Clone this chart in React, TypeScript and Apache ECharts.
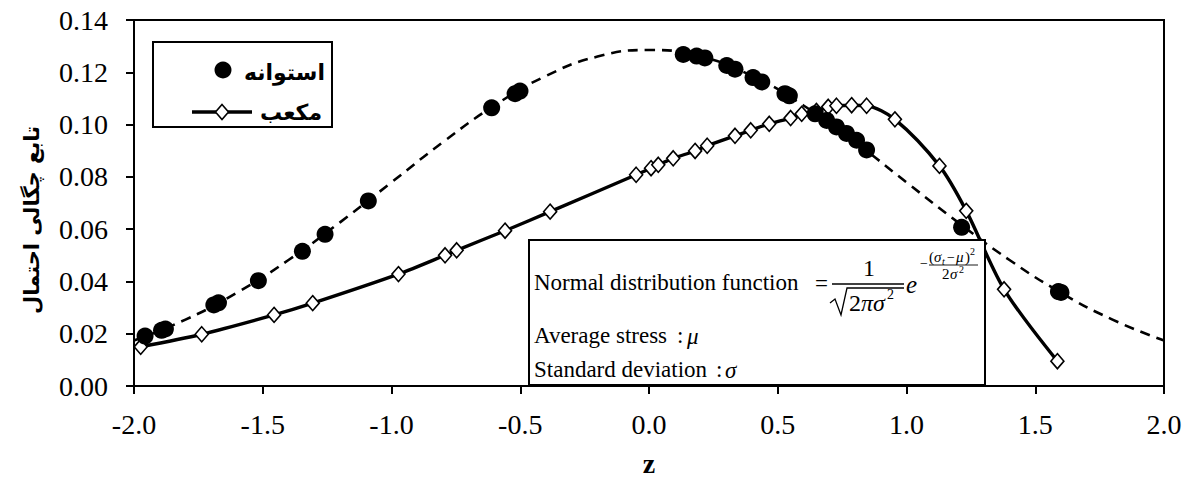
import React, { useEffect, useRef } from "react";
import * as echarts from "echarts";

// Normal distribution curve (dashed)
const curveZ = [-2.0, -1.8, -1.6, -1.4, -1.2, -1.0, -0.8, -0.6, -0.4, -0.2, 0.0, 0.2, 0.4, 0.6, 0.8, 1.0, 1.2, 1.4, 1.6, 1.8, 2.0];
const curveP = [0.0174, 0.0254, 0.0357, 0.0482, 0.0626, 0.0779, 0.0933, 0.1073, 0.1186, 0.126, 0.1285, 0.126, 0.1186, 0.1073, 0.0933, 0.0779, 0.0626, 0.0482, 0.0357, 0.0254, 0.0174];

// استوانه (cylinder) points
const cylZ = [-1.957, -1.893, -1.878, -1.69, -1.672, -1.517, -1.346, -1.258, -1.09, -0.611, -0.52, -0.501, 0.133, 0.185, 0.217, 0.302, 0.334, 0.404, 0.438, 0.528, 0.545, 0.645, 0.69, 0.728, 0.767, 0.806, 0.845, 1.214, 1.59, 1.6];
const cylP = [0.0191, 0.0213, 0.0218, 0.031, 0.0318, 0.0403, 0.0515, 0.058, 0.0708, 0.1064, 0.1118, 0.1128, 0.1268, 0.1262, 0.1255, 0.1226, 0.1212, 0.118, 0.1163, 0.1118, 0.111, 0.1041, 0.1016, 0.0991, 0.0966, 0.094, 0.0903, 0.0607, 0.0361, 0.0358];

// مکعب (cube) points
const cubeZ = [-1.974, -1.737, -1.456, -1.306, -0.973, -0.792, -0.747, -0.559, -0.384, -0.05, 0.008, 0.036, 0.094, 0.179, 0.226, 0.334, 0.395, 0.467, 0.55, 0.593, 0.65, 0.696, 0.728, 0.787, 0.845, 0.955, 1.128, 1.232, 1.379, 1.586];
const cubeP = [0.015, 0.0198, 0.0272, 0.0317, 0.0428, 0.05, 0.0519, 0.0594, 0.0667, 0.0808, 0.0833, 0.0846, 0.0871, 0.0899, 0.0919, 0.0957, 0.0978, 0.1003, 0.1025, 0.1041, 0.1052, 0.1068, 0.1072, 0.1074, 0.1072, 0.102, 0.0842, 0.067, 0.037, 0.0095];

const seriesNames = ["استوانه", "مکعب"];
const xAxisTitle = "z";
const yAxisTitle = "تابع چگالی احتمال";

const SERIF = "Liberation Serif, serif";
const ARABIC = "DejaVu Sans, sans-serif";

export default function App() {
  const ref = useRef<HTMLDivElement>(null);
  useEffect(() => {
    if (!ref.current) return;
    const chart = echarts.init(ref.current, null, { renderer: "svg" });
    const pairs = (xs: number[], ys: number[]) => xs.map((x, i) => [x, ys[i]]);
    const t = (text: string, x: number, y: number, size: number, extra: any = {}) => ({
      type: "text",
      x,
      y,
      silent: true,
      z: 11,
      style: {
        text,
        font: `${extra.italic ? "italic " : ""}${extra.bold ? "bold " : ""}${size}px ${extra.family || SERIF}`,
        fill: "#000",
        textAlign: extra.align || "left",
        textVerticalAlign: "middle",
      },
      rotation: extra.rotation || 0,
    });
    chart.setOption({
      animation: false,
      backgroundColor: "#fff",
      grid: { left: 134, right: 31, top: 20, bottom: 91, show: true, borderColor: "#000", borderWidth: 2, containLabel: false },
      xAxis: {
        type: "value",
        min: -2,
        max: 2,
        interval: 0.5,
        name: xAxisTitle,
        nameLocation: "middle",
        nameGap: 63,
        nameTextStyle: { fontFamily: SERIF, fontWeight: "bold", fontSize: 28, color: "#000" },
        axisLine: { onZero: false, lineStyle: { color: "#000", width: 2 } },
        axisTick: { show: true, inside: false, length: 8, lineStyle: { color: "#000", width: 2 } },
        axisLabel: { fontFamily: SERIF, fontSize: 28, color: "#000", margin: 24, formatter: (v: number) => v.toFixed(1) },
        splitLine: { show: false },
      },
      yAxis: {
        type: "value",
        min: 0,
        max: 0.14,
        interval: 0.02,
        axisLine: { show: true, onZero: false, lineStyle: { color: "#000", width: 2 } },
        axisTick: { show: true, inside: false, length: 8, lineStyle: { color: "#000", width: 2 } },
        axisLabel: { fontFamily: SERIF, fontSize: 28, color: "#000", margin: 26, formatter: (v: number) => v.toFixed(2) },
        splitLine: { show: false },
      },
      series: [
        {
          type: "line",
          name: "normal",
          data: pairs(curveZ, curveP),
          smooth: true,
          showSymbol: false,
          symbol: "none",
          lineStyle: { color: "#000", width: 2.6, type: [10, 7] },
          z: 2,
          silent: true,
        },
        {
          type: "line",
          name: seriesNames[1],
          data: pairs(cubeZ, cubeP),
          smooth: 0.3,
          symbol: "diamond",
          symbolSize: [13, 15],
          showAllSymbol: true,
          itemStyle: { color: "#fff", borderColor: "#000", borderWidth: 1.6, opacity: 1 },
          lineStyle: { color: "#000", width: 3.4 },
          z: 3,
          silent: true,
        },
        {
          type: "scatter",
          name: seriesNames[0],
          data: pairs(cylZ, cylP),
          symbol: "circle",
          symbolSize: 17,
          itemStyle: { color: "#000", opacity: 1 },
          z: 4,
          silent: true,
        },
      ],
      graphic: [
        // y-axis title
        t(yAxisTitle, 32, 220, 21, { bold: true, family: ARABIC, align: "center", rotation: Math.PI / 2 }),
        // legend
        { type: "rect", shape: { x: 153, y: 42, width: 179, height: 85 }, style: { fill: "#fff", stroke: "#000", lineWidth: 2 }, z: 10, silent: true },
        { type: "circle", shape: { cx: 223, cy: 70, r: 8.5 }, style: { fill: "#000" }, z: 11, silent: true },
        t(seriesNames[0], 325, 72, 22, { bold: true, family: ARABIC, align: "right" }),
        { type: "line", shape: { x1: 192, y1: 112, x2: 252, y2: 112 }, style: { stroke: "#000", lineWidth: 3.4 }, z: 11, silent: true },
        { type: "polygon", shape: { points: [[222, 104.5], [228.5, 112], [222, 119.5], [215.5, 112]] }, style: { fill: "#fff", stroke: "#000", lineWidth: 1.6 }, z: 12, silent: true },
        t(seriesNames[1], 322, 112, 22, { bold: true, family: ARABIC, align: "right" }),
        // formula box
        { type: "rect", shape: { x: 529, y: 240, width: 456, height: 145 }, style: { fill: "#fff", stroke: "#000", lineWidth: 2 }, z: 10, silent: true },
        t("Normal distribution function", 534, 282, 23),
        t("=", 815, 283, 23),
        t("1", 863, 268, 24),
        { type: "line", shape: { x1: 832, y1: 284, x2: 904, y2: 284 }, style: { stroke: "#000", lineWidth: 1.3 }, z: 11, silent: true },
        { type: "polyline", shape: { points: [[830, 303], [835, 299], [841, 315], [847, 288], [904, 288]] }, style: { stroke: "#000", lineWidth: 1.3, fill: null }, z: 11, silent: true },
        t("2", 849, 303, 24),
        t("πσ", 861, 303, 24, { italic: true }),
        t("2", 887, 294, 14),
        t("e", 906, 284, 25, { italic: true }),
        t("−", 920, 263, 14),
        t("(", 929, 257, 15),
        t("σ", 934, 257, 15, { italic: true }),
        t("t", 942, 261, 10, { italic: true }),
        t("−", 947, 257, 14),
        t("μ", 956, 257, 15, { italic: true }),
        t(")", 965, 257, 15),
        t("2", 970, 251, 10),
        { type: "line", shape: { x1: 929, y1: 265, x2: 978, y2: 265 }, style: { stroke: "#000", lineWidth: 0.9 }, z: 11, silent: true },
        t("2", 942, 274, 15),
        t("σ", 950, 274, 15, { italic: true }),
        t("2", 959, 269, 10),
        t("Average stress", 534, 335, 23),
        t(":", 677, 335, 23),
        t("μ", 687, 336, 23, { italic: true }),
        t("Standard deviation", 534, 369, 23),
        t(":", 716, 369, 23),
        t("σ", 725, 370, 23, { italic: true }),
      ],
    });
    return () => chart.dispose();
  }, []);
  return <div ref={ref} style={{ position: "fixed", left: 0, top: 0, width: 1195, height: 482 }} />;
}
